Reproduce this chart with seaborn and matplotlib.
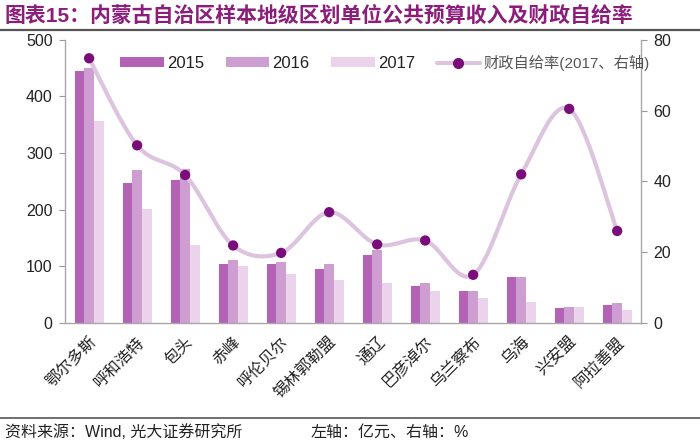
import numpy as np
import pandas as pd
import matplotlib
matplotlib.use("Agg")
import matplotlib.pyplot as plt
import seaborn as sns
from matplotlib.patches import Patch
from matplotlib.lines import Line2D

categories = ["鄂尔多斯", "呼和浩特", "包头", "赤峰", "呼伦贝尔", "锡林郭勒盟",
              "通辽", "巴彦淖尔", "乌兰察布", "乌海", "兴安盟", "阿拉善盟"]
rev_2015 = [445, 247, 252, 105, 104, 95, 120, 66, 56, 81, 27, 32]
rev_2016 = [451, 270, 272, 112, 107, 105, 128, 71, 57, 81, 29, 35]
rev_2017 = [357, 202, 137, 101, 86, 75, 71, 57, 44, 37, 29, 22]
self_ratio_2017 = [74.8, 50.2, 41.8, 21.9, 19.8, 31.3, 22.2, 23.3, 13.6, 42.0, 60.5, 26.0]
years = ["2015", "2016", "2017"]

sns.set_theme(style="white")
plt.rcParams['font.family'] = ['Liberation Sans', 'Noto Sans CJK SC', 'DejaVu Sans']
plt.rcParams['axes.unicode_minus'] = False

df = pd.DataFrame({
    "city": categories * 3,
    "year": sum([[y] * len(categories) for y in years], []),
    "value": rev_2015 + rev_2016 + rev_2017,
})

bar_colors = ["#B462B6", "#CE9ED2", "#EBD3EC"]
fig = plt.figure(figsize=(7.0, 4.43), dpi=100)
ax = fig.add_axes([0.093, 0.271, 0.823, 0.639])

sns.barplot(data=df, x="city", y="value", hue="year", palette=bar_colors,
            width=0.6, gap=0, ax=ax, saturation=1, legend=True)
for p in ax.patches:
    p.set_edgecolor("none")

ax.set_xlim(-0.5, len(categories) - 0.5)
ax.set_ylim(0, 500)
ax.set_yticks([0, 100, 200, 300, 400, 500])
ax.set_xlabel("")
ax.set_ylabel("")
ax.tick_params(axis="y", direction="out", length=4, width=0.8, color="#999999",
               labelsize=11.5, labelcolor="#222222", left=True, pad=5)
ax.tick_params(axis="x", length=0, labelsize=11.5, labelcolor="#222222", pad=8)
for lab in ax.get_xticklabels():
    lab.set_rotation(45)
    lab.set_ha("right")
    lab.set_rotation_mode("anchor")
for s in ["left", "bottom"]:
    ax.spines[s].set_color("#A8A8A8")
    ax.spines[s].set_linewidth(1.0)
ax.spines["top"].set_visible(False)
ax.spines["right"].set_visible(False)

ax2 = ax.twinx()
ax2.set_ylim(0, 80)
ax2.set_yticks([0, 20, 40, 60, 80])
ax2.tick_params(axis="y", direction="out", length=4, width=0.8, color="#999999",
                labelsize=11.5, labelcolor="#222222", right=True, pad=5)
ax2.spines["right"].set_color("#A8A8A8")
ax2.spines["right"].set_linewidth(1.0)
for s in ["left", "bottom", "top"]:
    ax2.spines[s].set_visible(False)
ax2.grid(False)


def smooth_path(xs, ys, sx, sy, n=30):
    # Catmull-Rom style smoothing in display-proportional space (drawing only)
    P = np.column_stack([np.asarray(xs, float) * sx, np.asarray(ys, float) * sy])
    out = [P[0]]
    for i in range(len(P) - 1):
        p0 = P[i - 1] if i > 0 else P[i]
        p1, p2 = P[i], P[i + 1]
        p3 = P[i + 2] if i + 2 < len(P) else P[i + 1]
        c1 = p1 + (p2 - p0) / 6.0
        c2 = p2 - (p3 - p1) / 6.0
        t = np.linspace(0, 1, n)[1:, None]
        seg = ((1 - t) ** 3) * p1 + 3 * ((1 - t) ** 2) * t * c1 + 3 * (1 - t) * t ** 2 * c2 + t ** 3 * p2
        out.extend(seg)
    out = np.array(out)
    return out[:, 0] / sx, out[:, 1] / sy


xpos = np.arange(len(categories))
sx, sy = 48.0, 283.0 / 80.0
cx, cy = smooth_path(xpos, self_ratio_2017, sx, sy)
line_color = "#DCC4DF"
ax2.plot(cx, cy, color=line_color, lw=3.0, solid_capstyle="round", zorder=3)
sns.scatterplot(x=xpos, y=self_ratio_2017, ax=ax2, color="#7B0D7B", s=55,
                edgecolor="none", zorder=4, legend=False)

handles = [Patch(facecolor=c, edgecolor="none") for c in bar_colors]
handles.append(Line2D([0], [0], color=line_color, lw=3.0, marker="o",
                      markerfacecolor="#7B0D7B", markeredgecolor="#7B0D7B", markersize=7))
labels = years + ["财政自给率(2017、右轴)"]
if ax.get_legend() is not None:
    ax.get_legend().remove()
leg = ax2.legend(handles, labels, ncol=4, loc="upper left", bbox_to_anchor=(0.07, 1.0),
                 frameon=False, fontsize=12, handlelength=2.6, handleheight=0.55,
                 columnspacing=1.3, handletextpad=0.2, borderaxespad=0.5)
for t in leg.get_texts():
    t.set_color("#222222")
leg.get_texts()[3].set_color("#555555")
leg.get_texts()[3].set_fontsize(11)

fig.text(0.007, 0.965, "图表15：内蒙古自治区样本地级区划单位公共预算收入及财政自给率",
         fontsize=15, fontweight="bold", color="#8A1E7A", ha="left", va="center")
fig.add_artist(plt.Line2D([0.0, 1.0], [0.932, 0.932], color="#555555", lw=1.6,
                          transform=fig.transFigure))
fig.add_artist(plt.Line2D([0.0, 1.0], [0.057, 0.057], color="#555555", lw=1.2,
                          transform=fig.transFigure))
fig.text(0.007, 0.024, "资料来源：Wind, 光大证券研究所", fontsize=11.5, color="#222222",
         ha="left", va="center")
fig.text(0.443, 0.024, "左轴：亿元、右轴：%", fontsize=11.5, color="#222222",
         ha="left", va="center")

fig.savefig("out.png", dpi=100)
